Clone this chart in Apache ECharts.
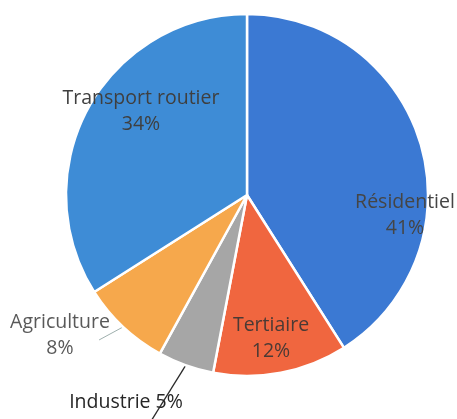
<!DOCTYPE html>
<html>
<head>
<meta charset="utf-8">
<script src="https://cdn.jsdelivr.net/npm/echarts@6/dist/echarts.min.js"></script>
<style>
  html, body { margin: 0; padding: 0; background: #ffffff; }
  #chart { width: 457px; height: 419px; }
</style>
</head>
<body>
<div id="chart"></div>
<script>
// Energy consumption share by sector (%)
const sectors = ['Résidentiel', 'Tertiaire', 'Industrie', 'Agriculture', 'Transport routier'];
const shares = [41, 12, 5, 8, 34];
const sliceColors = ['#3b79d3', '#f0663f', '#a6a6a6', '#f6a84c', '#3e8cd6'];

// Label anchor (centre of the text block) for each sector
const labelSpots = [
  [405, 215],
  [271, 338],
  [126, 402],
  [60, 335],
  [141, 111]
];
const labelColors = ['#454545', '#4a3a35', '#262626', '#595959', '#3f3f3f'];

const fontFamily = '"Open Sans", "Noto Sans", sans-serif';

const data = sectors.map((name, i) => {
  const outside = name === 'Industrie' || name === 'Agriculture';
  return {
    name: name,
    value: shares[i],
    itemStyle: { color: sliceColors[i] },
    label: {
      show: true,
      position: outside ? 'outside' : 'inside',
      color: labelColors[i],
      formatter: name === 'Industrie' ? '{b} {c}%' : '{b}\n{c}%'
    },
    labelLine: outside ? {
      show: true,
      length: 10,
      length2: 10,
      lineStyle: {
        color: name === 'Industrie' ? '#2a2a2a' : '#9fb0ae',
        width: name === 'Industrie' ? 1.3 : 1
      }
    } : { show: false }
  };
});

const chart = echarts.init(document.getElementById('chart'), null, { renderer: 'canvas' });
chart.setOption({
  backgroundColor: '#ffffff',
  animation: false,
  series: [{
    type: 'pie',
    center: [247, 195],
    radius: 181,
    startAngle: 90,
    clockwise: true,
    avoidLabelOverlap: false,
    itemStyle: { borderColor: '#ffffff', borderWidth: 2.5 },
    label: {
      fontFamily: fontFamily,
      fontSize: 19.5,
      lineHeight: 26,
      align: 'center'
    },
    labelLayout: function (params) {
      const spot = labelSpots[params.dataIndex];
      const out = {
        x: spot[0],
        y: spot[1],
        align: 'center',
        verticalAlign: 'middle'
      };
      const pts = params.labelLinePoints;
      if (pts && pts.length) {
        const start = pts[0];
        if (sectors[params.dataIndex] === 'Industrie') {
          out.labelLinePoints = [start, [start[0] - 36, start[1] + 58]];
        } else {
          out.labelLinePoints = [start, [start[0] - 24, start[1] + 13]];
        }
      }
      return out;
    },
    data: data
  }]
});
</script>
</body>
</html>
